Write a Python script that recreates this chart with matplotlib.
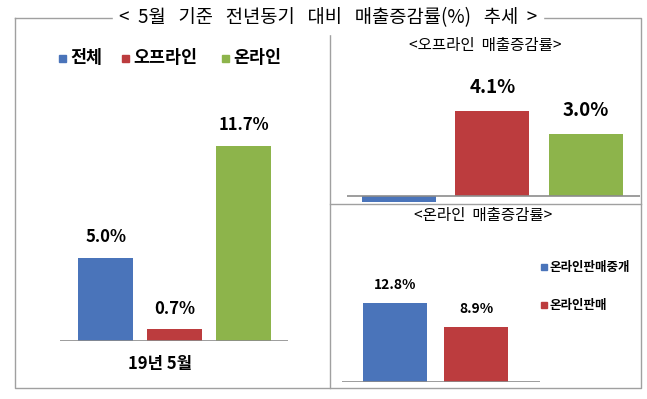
import matplotlib
matplotlib.use("Agg")
import matplotlib.pyplot as plt
from matplotlib.lines import Line2D
from matplotlib.patches import Rectangle

plt.rcParams['font.family'] = ['Noto Sans CJK KR', 'DejaVu Sans']

# ---- data ----
title = "<  5월   기준   전년동기   대비   매출증감률(%)   추세  >"

left_labels = ["전체", "오프라인", "온라인"]
left_values = [5.0, 0.7, 11.7]
left_xlabel = "19년 5월"

offline_title = "<오프라인  매출증감률>"
offline_values = [-0.3, 4.1, 3.0]
offline_text = ["", "4.1%", "3.0%"]

online_title = "<온라인  매출증감률>"
online_labels = ["온라인판매중개", "온라인판매"]
online_values = [12.8, 8.9]

BLUE = '#4A74BA'
RED = '#BC3C3E'
GREEN = '#8DB44B'
GRID = '#8C8C8C'

W, H = 647, 399
fig = plt.figure(figsize=(W / 100, H / 100), dpi=100)


def px_axes(x0, y0, x1, y1):
    # pixel box (top-left origin) -> figure axes
    return fig.add_axes([x0 / W, 1 - y1 / H, (x1 - x0) / W, (y1 - y0) / H])


def fline(xs, ys, color='#A0A0A0', lw=1.0):
    fig.add_artist(Line2D([x / W for x in xs], [1 - y / H for y in ys],
                          color=color, lw=lw, transform=fig.transFigure))


def bare(ax):
    ax.set_xticks([])
    ax.set_yticks([])
    for s in ax.spines.values():
        s.set_visible(False)
    ax.patch.set_alpha(0)


# ---- frame ----
fline([15, 15, 641, 641, 15], [18, 388, 388, 18, 18])
fline([330, 330], [30, 388])
fline([330, 641], [204, 204])
fig.text(328 / W, 1 - 18 / H, title, ha='center', va='center', fontsize=13.5,
         backgroundcolor='white')

# ---- left panel ----
ax = px_axes(60, 110, 288, 341)
bare(ax)
colors = [BLUE, RED, GREEN]
ax.bar(range(3), left_values, width=0.8, color=colors, zorder=2)
ax.axhline(0, color=GRID, lw=1.2, zorder=3)
ax.set_xlim(-0.66, 2.64)
ax.set_ylim(0, 231 / 16.7)
for i, v in enumerate(left_values):
    ax.annotate(f"{v:.1f}%", (i, v), xytext=(0, 8), textcoords='offset points',
                ha='center', va='bottom', fontsize=12, fontweight='bold')
fig.text(160 / W, 1 - 364 / H, left_xlabel, ha='center', va='center',
         fontsize=12, fontweight='bold')

leg_x = [59, 122, 222]
for lx, lab, c in zip(leg_x, left_labels, colors):
    fig.add_artist(Rectangle((lx / W, 1 - 62 / H), 7 / W, 7 / H, color=c,
                             transform=fig.transFigure))
    fig.text((lx + 11) / W, 1 - 58 / H, lab, ha='left', va='center',
             fontsize=12.5, fontweight='bold')

# ---- top right: offline ----
fig.text(485 / W, 1 - 45 / H, offline_title, ha='center', va='center', fontsize=11.2)
ax2 = px_axes(347, 60, 640, 204)
bare(ax2)
ax2.bar(range(3), offline_values, width=0.79, color=colors, zorder=2)
ax2.axhline(0, color=GRID, lw=1.2, zorder=3)
ax2.set_xlim(-0.556, 2.58)
ax2.set_ylim(-8 / 20.7, 136 / 20.7)
for i, (v, t) in enumerate(zip(offline_values, offline_text)):
    if t:
        ax2.annotate(t, (i, v), xytext=(0, 10), textcoords='offset points',
                     ha='center', va='bottom', fontsize=13.5, fontweight='bold')

# ---- bottom right: online ----
fig.text(483 / W, 1 - 215 / H, online_title, ha='center', va='center', fontsize=11.2)
ax3 = px_axes(342, 230, 540, 382)
bare(ax3)
ax3.bar(range(2), online_values, width=0.785, color=[BLUE, RED], zorder=2)
ax3.axhline(0, color=GRID, lw=1.2, zorder=3)
ax3.set_xlim(-0.65, 1.78)
ax3.set_ylim(0, 152 / 6.2)
for i, v in enumerate(online_values):
    ax3.annotate(f"{v:.1f}%", (i, v), xytext=(0, 8), textcoords='offset points',
                 ha='center', va='bottom', fontsize=10, fontweight='bold')

for ly, lab, c in zip([267, 305], online_labels, [BLUE, RED]):
    fig.add_artist(Rectangle((541 / W, 1 - (ly + 3) / H), 6 / W, 6 / H, color=c,
                             transform=fig.transFigure))
    fig.text(550 / W, 1 - ly / H, lab, ha='left', va='center',
             fontsize=9, fontweight='bold')

fig.savefig("out.png", dpi=100, facecolor='white')
